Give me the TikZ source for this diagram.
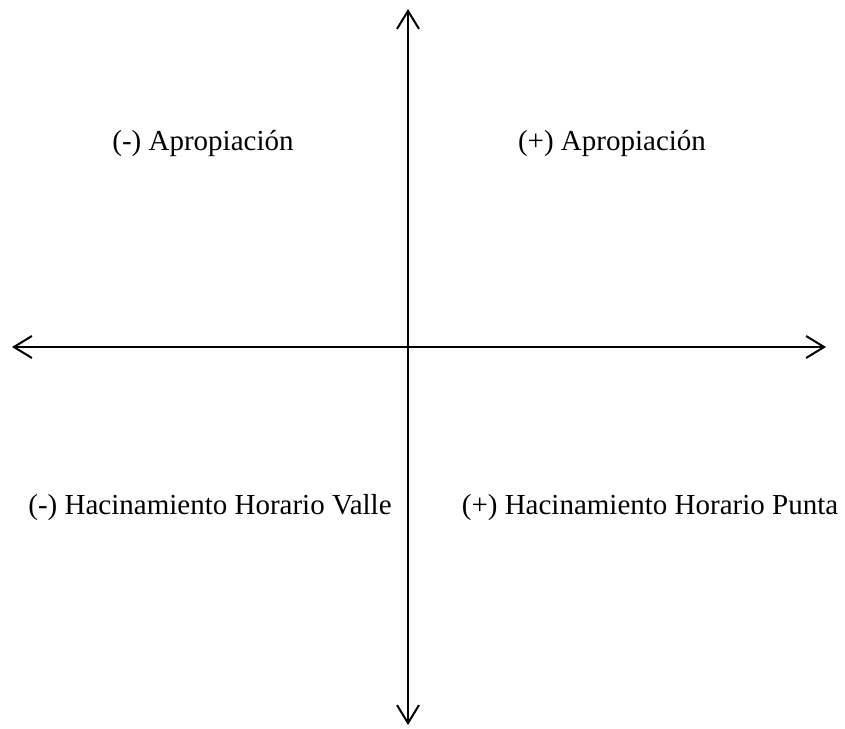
\documentclass[tikz,border=0pt]{standalone}
\usepackage{fontspec}
\setmainfont{Liberation Serif}
\usetikzlibrary{arrows.meta}

\begin{document}
\begin{tikzpicture}[x=0.5pt, y=-0.5pt, >={Straight Barb[length=9pt,width=11pt]}, line width=1pt,
  quadlabel/.style={anchor=base, font=\fontsize{14.5}{17}\selectfont}]
  \useasboundingbox (0,0) rectangle (845,728);
  % axis end points
  \coordinate (top) at (408,9);
  \coordinate (bottom) at (408,725);
  \coordinate (left) at (12,347);
  \coordinate (right) at (826,347);
  \draw[<->] (left) -- (right);
  \draw[<->] (bottom) -- (top);

  % quadrant labels
  \node[quadlabel] (apromenos) at (203,150) {(-) Apropiación};
  \node[quadlabel] (aproplus)  at (612,150) {(+) Apropiación};
  \node[quadlabel] (valle)     at (210,514) {(-) Hacinamiento Horario Valle};
  \node[quadlabel] (punta)     at (650,514) {(+) Hacinamiento Horario Punta};
\end{tikzpicture}
\end{document}
